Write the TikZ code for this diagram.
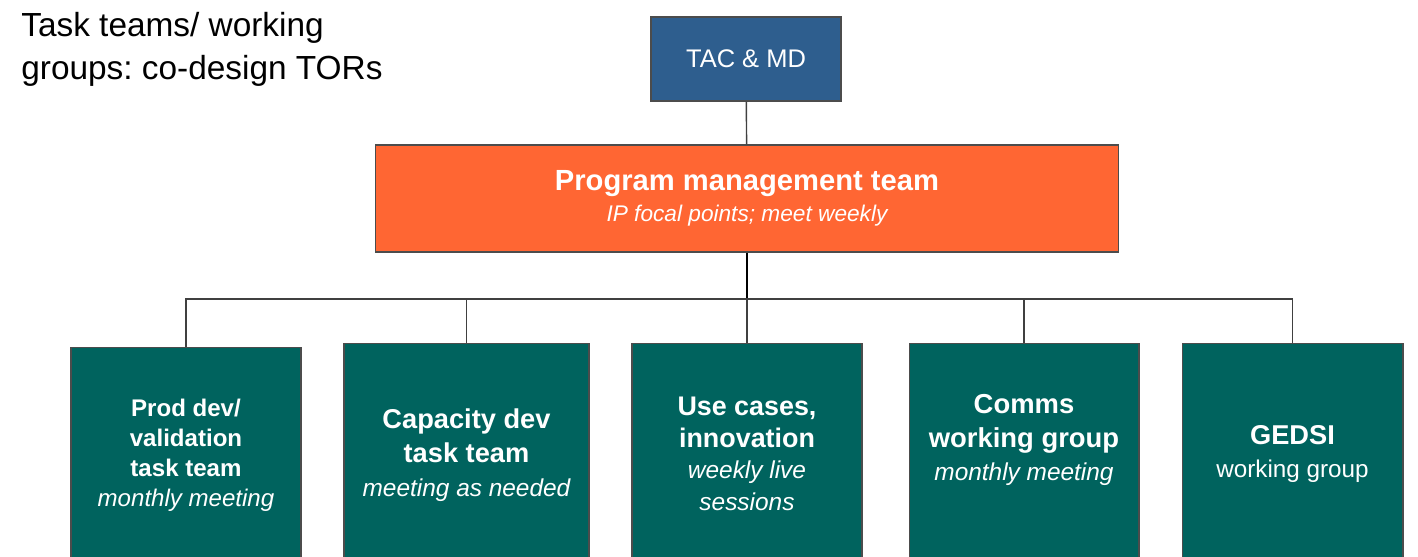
\documentclass[tikz,border=0pt]{standalone}
\usepackage{fontspec}
\setmainfont{Liberation Sans}
\frenchspacing
\definecolor{tacblue}{RGB}{46,94,142}
\definecolor{pmtorange}{RGB}{255,102,51}
\definecolor{teamteal}{RGB}{0,99,94}
\begin{document}
\begin{tikzpicture}[x=0.02cm, y=-0.02cm,
  box/.style={draw=black!70, line width=0.6pt, text=white, align=center, inner sep=0pt},
  team/.style={box, fill=teamteal, anchor=north, minimum height=4.6cm},
  teamtext/.style={text=white, align=center, inner sep=0pt},
  link/.style={draw=black!75, line width=0.8pt}]
\useasboundingbox (0,0) rectangle (1418,556);
\clip (0,0) rectangle (1418,556);
\node[anchor=north west, align=left, inner sep=0pt, font=\fontsize{19}{24.4}\selectfont] (title) at (21,12) {Task teams/ working\\groups: co-design TORs};
\node[box, fill=tacblue, minimum width=3.8cm, minimum height=1.68cm, font=\fontsize{14.5}{17}\selectfont] (tac) at (746,59) {TAC \& MD};
\node[box, fill=pmtorange, minimum width=14.88cm, minimum height=2.14cm] (pmt) at (747,198.5)
  {\fontsize{16.6}{18}\selectfont\bfseries Program management team\\[4pt]\fontsize{12.9}{15}\selectfont\itshape IP focal points; meet weekly};
\node[team, minimum width=4.6cm] (b1) at (186,347) {};
\node[team, minimum width=4.9cm] (b2) at (466.5,343) {};
\node[team, minimum width=4.6cm] (b3) at (747,343) {};
\node[team, minimum width=4.6cm] (b4) at (1024,343) {};
\node[team, minimum width=4.42cm] (b5) at (1292.5,343) {};
\node[teamtext, font=\fontsize{13.7}{17}\selectfont\bfseries] (t1) at (186,455) {Prod dev/\\validation\\task team\\{\mdseries\itshape monthly meeting}};
\node[teamtext, font=\fontsize{15.5}{19.3}\selectfont\bfseries] (t2) at (466.5,455) {Capacity dev\\task team\\{\fontsize{13.9}{19.3}\selectfont\mdseries\itshape meeting as needed}};
\node[teamtext, font=\fontsize{15.3}{18}\selectfont\bfseries] (t3) at (747,454) {Use cases,\\innovation\\{\fontsize{13.9}{17}\selectfont\mdseries\itshape weekly live}\\{\fontsize{13.9}{17}\selectfont\mdseries\itshape sessions}};
\node[teamtext, font=\fontsize{15.6}{19}\selectfont\bfseries] (t4) at (1024,440) {Comms\\working group\\{\fontsize{13.9}{17}\selectfont\mdseries\itshape monthly meeting}};
\node[teamtext, font=\fontsize{15.5}{19}\selectfont\bfseries] (t5) at (1292.5,454) {GEDSI\\{\fontsize{13.8}{17}\selectfont\mdseries working group}};
\coordinate (hub) at (747,299);
\draw[link] (tac) -- (pmt);
\draw[link, draw=black, line width=1.1pt] (pmt) -- (hub);
\foreach \b in {b1,b2,b3,b4,b5}
  \draw[link] (hub) -| (\b.north);
\end{tikzpicture}
\end{document}
